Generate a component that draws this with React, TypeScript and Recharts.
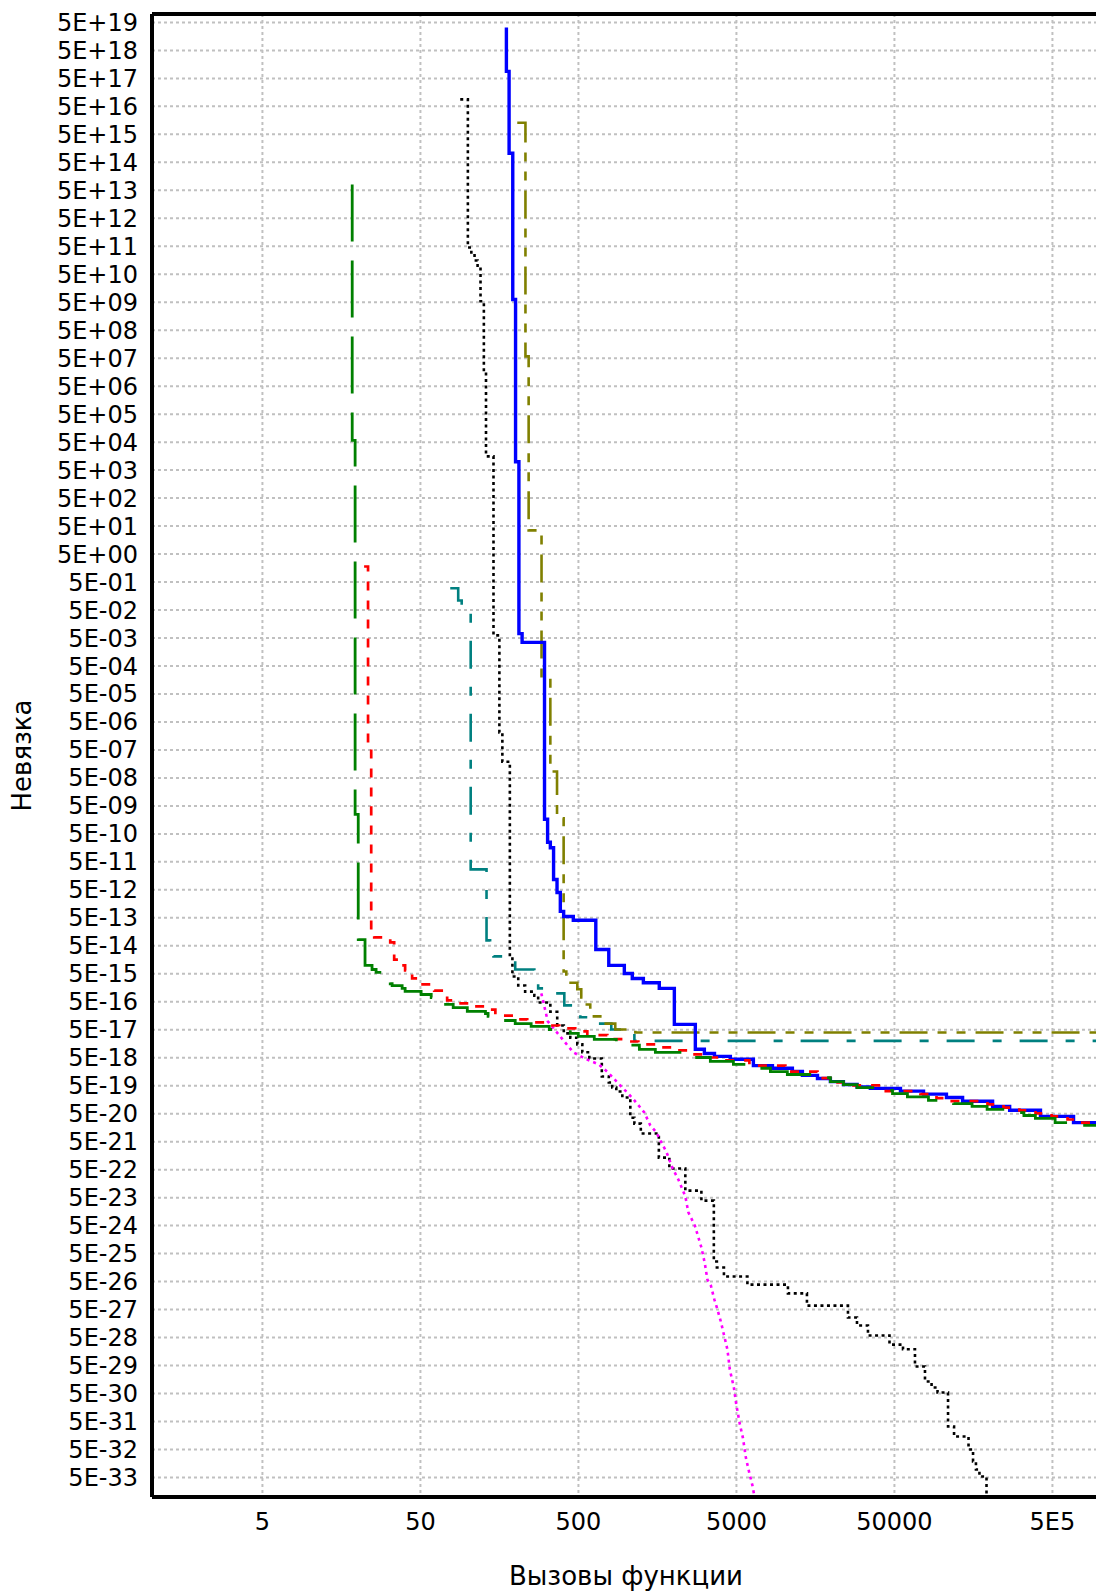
import React from 'react';
import { LineChart, Line, XAxis, YAxis, CartesianGrid, Label } from 'recharts';

const FONT = '"DejaVu Sans", Verdana, sans-serif';

// major ticks (gridlines)
const xTicks = [5, 50, 500, 5000, 50000, 500000];
const yTicks = [
  5e19, 5e18, 5e17, 5e16, 5e15, 5e14, 5e13, 5e12, 5e11, 5e10, 5e9, 5e8, 5e7, 5e6, 5e5, 5e4, 5e3, 5e2, 5e1, 5,
  5e-1, 5e-2, 5e-3, 5e-4, 5e-5, 5e-6, 5e-7, 5e-8, 5e-9, 5e-10, 5e-11, 5e-12, 5e-13, 5e-14, 5e-15, 5e-16,
  5e-17, 5e-18, 5e-19, 5e-20, 5e-21, 5e-22, 5e-23, 5e-24, 5e-25, 5e-26, 5e-27, 5e-28, 5e-29, 5e-30, 5e-31,
  5e-32, 5e-33,
];

// small inner ticks on the frame
const xDecades = [1, 10, 100, 1000, 10000, 100000];
const xMultipliers = [2, 3, 4, 5, 6, 7, 8, 9, 10];
const xMinorTicks = xDecades.flatMap((d) => xMultipliers.map((m) => m * d));
const yDecadeExps = Array.from({ length: 53 }, (_, i) => 19 - i);
const yMinorTicks = yDecadeExps.flatMap((e) => [1, 2].map((m) => m * Math.pow(10, e)));

// [function calls, residual]
const bluePts: [number, number][] = [
  [175, 3.3e19], [175, 8.9e17], [182, 1.05e15], [192, 6.3e9], [200, 1.0e4], [210, 7.2e-3], [220, 3.5e-3],
  [305, 1.66e-9], [319, 2.5e-10], [332, 1.6e-10], [348, 1.17e-11], [366, 4.0e-12], [384, 8.5e-13],
  [403, 5.6e-13], [464, 4.1e-13], [644, 3.7e-14], [778, 1.0e-14], [976, 5.1e-15], [1096, 3.4e-15],
  [1288, 2.4e-15], [1624, 1.5e-15], [2023, 7.8e-17], [2747, 1.0e-17], [3133, 7.1e-18], [3631, 5.6e-18],
  [4576, 4.4e-18], [6400, 2.6e-18], [8450, 2.1e-18], [11300, 1.6e-18], [13080, 1.17e-18], [16290, 9.1e-19],
  [19660, 7.0e-19], [23770, 5.5e-19], [29000, 4.5e-19], [35200, 4.0e-19], [54580, 3.2e-19], [76400, 2.5e-19],
  [106700, 1.9e-19], [135000, 1.4e-19], [209000, 9.1e-20], [268000, 6.6e-20], [420000, 4.0e-20],
  [680000, 2.4e-20], [1000000, 2.4e-20],
];

const redPts: [number, number][] = [
  [22.0, 1.8], [23.3, 5.6e-7], [24.4, 1.6e-13], [25.5, 1.0e-13], [32.2, 6.6e-14], [34.1, 1.6e-14],
  [37.8, 1.0e-14], [40.0, 6.6e-15], [44.3, 3.4e-15], [49.1, 2.1e-15], [61.1, 1.26e-15], [73.8, 5.6e-16],
  [80.6, 4.4e-16], [102, 3.4e-16], [129, 2.6e-16], [149, 2.0e-16], [155, 1.6e-16], [196, 1.17e-16],
  [237, 9.1e-17], [313, 7.1e-17], [378, 5.6e-17], [477, 4.4e-17], [569, 3.2e-17], [762, 2.3e-17],
  [962, 1.9e-17], [1197, 1.5e-17], [1578, 1.17e-17], [1993, 9.1e-18], [2515, 6.6e-18], [3178, 5.1e-18],
  [4130, 4.0e-18], [6040, 2.6e-18], [10200, 1.6e-18], [16290, 9.3e-19], [19660, 6.6e-19], [23770, 5.1e-19],
  [42010, 3.2e-19], [73040, 2.5e-19], [92300, 1.8e-19], [110000, 1.4e-19], [194000, 1.07e-19],
  [245000, 8.3e-20], [309000, 6.6e-20], [391000, 5.1e-20], [494000, 4.0e-20], [623000, 3.1e-20],
  [754000, 2.4e-20], [1000000, 2.4e-20],
];

const greenPts: [number, number][] = [
  [18.5, 8.1e13], [18.5, 5.8e4], [19.3, 2.5e-9], [20.2, 8.3e-14], [22.3, 1.0e-14], [24.7, 7.1e-15],
  [26.2, 5.6e-15], [29.0, 4.0e-15], [32.2, 2.2e-15], [33.1, 1.9e-15], [38.3, 1.5e-15], [40.0, 1.17e-15],
  [50.5, 9.1e-16], [58.5, 7.1e-16], [63.8, 5.1e-16], [66.7, 4.0e-16], [80.6, 3.1e-16], [99, 2.25e-16],
  [129, 1.9e-16], [134, 1.5e-16], [155, 1.07e-16], [199, 8.3e-17], [251, 6.6e-17], [327, 5.1e-17],
  [444, 3.7e-17], [499, 2.9e-17], [630, 2.25e-17], [868, 1.6e-17], [962, 1.4e-17], [1215, 1.0e-17],
  [1534, 7.8e-18], [2445, 5.1e-18], [3418, 3.7e-18], [4783, 2.9e-18], [6310, 2.1e-18], [8205, 1.6e-18],
  [10500, 1.26e-18], [16290, 9.8e-19], [19660, 7.0e-19], [23770, 5.5e-19], [29000, 4.3e-19],
  [42010, 3.4e-19], [48620, 2.6e-19], [60420, 2.0e-19], [82080, 1.5e-19], [118300, 1.15e-19],
  [155000, 9.1e-20], [193000, 7.1e-20], [283800, 5.5e-20], [330000, 4.3e-20], [390000, 3.4e-20],
  [520000, 2.4e-20], [753800, 1.9e-20], [1000000, 1.9e-20],
];

const olivePts: [number, number][] = [
  [205, 1.3e16], [231, 5.8e7], [242, 35], [292, 1.8e-4], [332, 8.5e-8], [366, 1.8e-9], [403, 6.0e-15],
  [419, 2.4e-15], [492, 1.4e-15], [521, 7.1e-16], [552, 4.0e-16], [594, 1.5e-16], [729, 8.3e-17],
  [855, 5.1e-17], [1146, 4.0e-17], [1000000, 4.0e-17],
];

const tealPts: [number, number][] = [
  [77.2, 0.3], [86.7, 0.11], [91.2, 0.045], [104, 2.7e-11], [131, 7.8e-14], [138, 6.6e-14], [145, 2.1e-14],
  [199, 7.1e-15], [263, 2.1e-15], [278, 1.5e-15], [308, 1.17e-15], [341, 1.0e-15], [407, 3.7e-16],
  [514, 1.4e-16], [594, 8.3e-17], [807, 5.1e-17], [1130, 2.0e-17], [1000000, 2.0e-17],
];

const blackPts: [number, number][] = [
  [89.3, 8.9e16], [99.8, 4.5e11], [105, 2.7e11], [110, 1.55e11], [115, 8.7e10], [120, 5.4e9], [126, 1.7e7],
  [130, 1.55e4], [145, 6.2e-3], [158, 2.1e-6], [165, 1.9e-7], [184, 2.1e-14], [191, 4.0e-15], [208, 1.9e-15],
  [230, 1.15e-15], [263, 8.3e-16], [278, 4.7e-16], [332, 2.2e-16], [367, 7.1e-17], [404, 3.7e-17],
  [444, 2.6e-17], [492, 1.5e-17], [529, 7.8e-18], [586, 4.7e-18], [703, 1.07e-18], [778, 6.5e-19],
  [819, 4.3e-19], [868, 3.1e-19], [948, 1.9e-19], [1065, 3.6e-20], [1130, 2.2e-20], [1241, 9.8e-21],
  [1614, 1.35e-21], [1881, 5.5e-22], [2374, 8.9e-23], [3000, 3.9e-23], [3597, 2.6e-25], [3760, 1.6e-25],
  [4167, 7.6e-26], [5866, 3.9e-26], [10590, 1.9e-26], [13970, 6.9e-27], [25400, 2.6e-27], [28970, 1.35e-27],
  [33990, 5.9e-28], [46530, 2.8e-28], [56650, 1.9e-28], [67450, 4.6e-29], [78040, 1.35e-29], [85900, 8.2e-30],
  [93700, 5.4e-30], [109200, 3.3e-31], [119200, 1.45e-31], [147200, 5.0e-32], [157200, 1.86e-32],
  [164000, 9.6e-33], [172600, 5.4e-33], [191300, 1.0e-33],
];

const magentaPts: [number, number][] = [
  [291, 1.0e-15], [320, 1.0e-16], [389, 2.6e-17], [464, 7.8e-18], [561, 4.4e-18], [673, 2.9e-18],
  [778, 1.4e-18], [894, 6.0e-19], [1035, 2.6e-19], [1130, 1.5e-19], [1306, 5.5e-20], [1425, 1.9e-20],
  [1556, 1.07e-20], [1698, 4.0e-21], [1800, 2.2e-21], [1964, 5.9e-22], [2145, 2.2e-22], [2374, 5.5e-23],
  [2482, 1.48e-23], [2728, 5.0e-24], [3000, 8.3e-25], [3156, 2.2e-25], [3274, 5.9e-26], [3445, 3.6e-26],
  [3623, 1.15e-26], [3760, 5.9e-27], [3983, 1.86e-27], [4167, 6.3e-28], [4384, 1.86e-28], [4540, 3.6e-29],
  [4817, 8.1e-30], [4990, 2.0e-30], [5260, 3.9e-31], [5495, 1.3e-31], [5740, 2.5e-32], [6040, 7.0e-33],
  [6310, 2.6e-33], [6500, 1.05e-33],
];

const toPoints = (rows: [number, number][]) => rows.map(([x, y]) => ({ x, y }));

const series = [
  { key: 'black', rows: blackPts, color: '#000000', width: 2.6, dash: '3 3.5', type: 'stepAfter' },
  { key: 'magenta', rows: magentaPts, color: '#ff00ff', width: 2.6, dash: '3 4', type: 'linear' },
  { key: 'teal', rows: tealPts, color: '#008080', width: 2.6, dash: '28 18 9 18', type: 'stepAfter' },
  { key: 'olive', rows: olivePts, color: '#808000', width: 2.6, dash: '28 10 9 10 9 10', type: 'stepAfter' },
  { key: 'blue', rows: bluePts, color: '#0000ff', width: 3.4, dash: undefined, type: 'stepAfter' },
  { key: 'red', rows: redPts, color: '#ff0000', width: 2.7, dash: '9 10', type: 'stepAfter' },
  { key: 'green', rows: greenPts, color: '#008000', width: 2.8, dash: '57 19', type: 'stepAfter' },
];

const fmtY = (v: number) => {
  const e = Math.round(Math.log10(v / 5));
  return `5E${e < 0 ? '-' : '+'}${String(Math.abs(e)).padStart(2, '0')}`;
};
const fmtX = (v: number) => (v >= 500000 ? '5E5' : String(v));

const tickStyle = { fill: '#000', fontSize: 24, fontFamily: FONT };

const YTitle = (props: any) => {
  const vb = props.viewBox || {};
  const cx = (vb.x ?? 0) + 22;
  const cy = (vb.y ?? 14) + (vb.height ?? 1483) / 2;
  return (
    <text x={cx} y={cy} transform={`rotate(-90 ${cx} ${cy})`} textAnchor="middle" dominantBaseline="central"
      fontFamily={FONT} fontSize={26} fill="#000">
      Невязка
    </text>
  );
};

const XTitle = (props: any) => {
  const vb = props.viewBox || {};
  const cx = (vb.x ?? 152) + (vb.width ?? 948) / 2;
  const cy = (vb.y ?? 1497) + 88;
  return (
    <text x={cx} y={cy} textAnchor="middle" fontFamily={FONT} fontSize={26} fill="#000">
      Вызовы функции
    </text>
  );
};

const App: React.FC = () => {
  return (
    <div style={{ position: 'absolute', left: 0, top: 0, width: 1096, height: 1594, overflow: 'hidden', background: '#fff' }}>
      <LineChart width={1110} height={1594} margin={{ top: 14, right: 10, bottom: 0, left: 0 }}>
        <CartesianGrid xAxisId="main" yAxisId="main" stroke="#c0c0c0" strokeWidth={2} strokeDasharray="3 3" />
        <XAxis xAxisId="main" dataKey="x" type="number" scale="log" domain={[1, 1e6]} allowDataOverflow
          ticks={xTicks} interval={0} tickFormatter={fmtX} tick={tickStyle} tickLine={false} tickSize={0}
          tickMargin={16} axisLine={{ stroke: '#000', strokeWidth: 4 }} height={97}>
          <Label content={XTitle} />
        </XAxis>
        <XAxis xAxisId="minorBottom" dataKey="x" type="number" scale="log" domain={[1, 1e6]} allowDataOverflow
          ticks={xMinorTicks} interval={0} mirror tick={false} tickLine={{ stroke: '#000', strokeWidth: 2 }}
          tickSize={4} axisLine={false} />
        <XAxis xAxisId="top" orientation="top" dataKey="x" type="number" scale="log" domain={[1, 1e6]} allowDataOverflow
          ticks={xMinorTicks} interval={0} mirror tick={false} tickLine={{ stroke: '#000', strokeWidth: 2 }}
          tickSize={4} axisLine={{ stroke: '#000', strokeWidth: 4 }} />
        <YAxis yAxisId="main" type="number" scale="log" domain={[1e-33, 1e20]} allowDataOverflow ticks={yTicks}
          interval={0} tickFormatter={fmtY} tick={tickStyle} tickLine={false} tickSize={0} tickMargin={14}
          axisLine={{ stroke: '#000', strokeWidth: 4 }} width={152}>
          <Label content={YTitle} />
        </YAxis>
        <YAxis yAxisId="minorY" type="number" scale="log" domain={[1e-33, 1e20]} allowDataOverflow ticks={yMinorTicks}
          interval={0} mirror tick={false} tickLine={{ stroke: '#000', strokeWidth: 2 }} tickSize={3} axisLine={false} />
        {series.map((s) => (
          <Line key={s.key} xAxisId="main" yAxisId="main" data={toPoints(s.rows)} dataKey="y" type={s.type as any}
            stroke={s.color} strokeWidth={s.width} strokeDasharray={s.dash} dot={false} activeDot={false}
            isAnimationActive={false} />
        ))}
      </LineChart>
    </div>
  );
};

export default App;
